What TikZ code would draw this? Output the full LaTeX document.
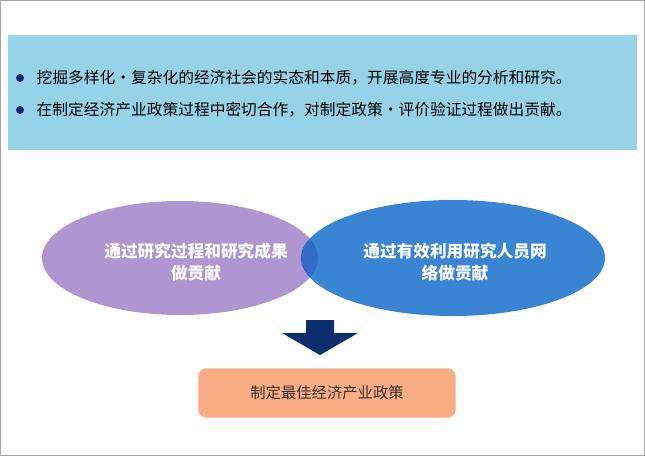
\documentclass[tikz,border=0pt]{standalone}
\usepackage{fontspec}
\setmainfont{Noto Sans CJK SC}
\usetikzlibrary{positioning}
\definecolor{panelblue}{RGB}{150,210,232}
\definecolor{bulletnavy}{RGB}{20,40,110}
\definecolor{leftpurple}{RGB}{176,150,208}
\definecolor{rightblue}{RGB}{58,132,212}
\definecolor{overlapblue}{RGB}{50,108,200}
\definecolor{arrownavy}{RGB}{10,45,110}
\definecolor{resultsalmon}{RGB}{250,172,132}
\tikzset{
    bulletline/.style={anchor=west, font=\fontsize{11.8}{13}\selectfont, text=black},
    ovaltext/.style={align=center, text=white, font=\bfseries\fontsize{12.5}{17}\selectfont},
}
\begin{document}
\begin{tikzpicture}[x=0.75pt,y=-0.75pt]
    \useasboundingbox (0,0) rectangle (645,456);
    \draw[gray!70] (0.5,0.5) rectangle (644.5,455.5);

    %%% top panel
    \fill[panelblue] (8,35) rectangle (637,150);
    \node[circle, fill=bulletnavy, inner sep=0pt, minimum size=6pt] (b1) at (20,78) {};
    \node[circle, fill=bulletnavy, inner sep=0pt, minimum size=6pt] (b2) at (20,110) {};
    \node[bulletline] (l1) at (32,78) {挖掘多样化・复杂化的经济社会的实态和本质，开展高度专业的分析和研究。};
    \node[bulletline] (l2) at (32,110) {在制定经济产业政策过程中密切合作，对制定政策・评价验证过程做出贡献。};

    %%% ovals
    \fill[leftpurple] (180,258) ellipse (138 and 57);
    \fill[rightblue] (453,258) ellipse (152 and 58);
    \begin{scope}
        \clip (180,258) ellipse (138 and 57);
        \fill[overlapblue] (453,258) ellipse (152 and 58);
    \end{scope}
    \node[ovaltext] (research) at (196,262) {通过研究过程和研究成果\\做贡献};
    \node[ovaltext] (network) at (455,262) {通过有效利用研究人员网\\络做贡献};

    %%% arrow
    \fill[arrownavy] (306,320) -- (334,320) -- (334,333) -- (358,333)
        -- (320,355) -- (282,333) -- (306,333) -- cycle;

    %%% result
    \node[fill=resultsalmon, rounded corners=6pt, minimum width=193pt, minimum height=37pt,
          font=\fontsize{11.5}{14}\selectfont, text=black!80] (policy) at (327,393) {制定最佳经济产业政策};
\end{tikzpicture}
\end{document}
